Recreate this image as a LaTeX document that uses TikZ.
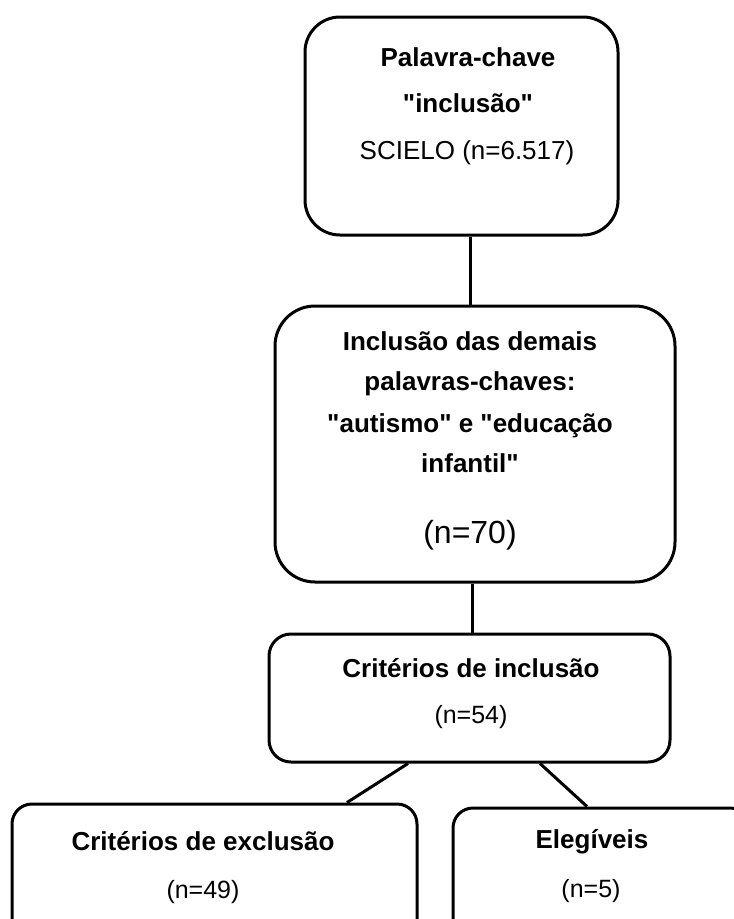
\documentclass[tikz,border=0pt]{standalone}
\usepackage{fontspec}
\setmainfont{Liberation Sans}[Ligatures=TeXOff]
\begin{document}
\begin{tikzpicture}[x=1pt,y=-1pt,
  box/.style={draw, line width=3pt, inner sep=0pt},
  conn/.style={line width=3pt},
  lblb/.style={anchor=base, inner sep=0pt, font=\fontsize{26}{30}\selectfont\bfseries},
  lblr/.style={anchor=base, inner sep=0pt, font=\fontsize{25}{30}\selectfont},
  lblbig/.style={anchor=base, inner sep=0pt, font=\fontsize{32}{36}\selectfont}]
\useasboundingbox (0,0) rectangle (734,919);
\clip (0,0) rectangle (734,919);
% boxes
\node[box, rounded corners=35pt, minimum width=313pt, minimum height=218pt] (top) at (461.5,126) {};
\node[box, rounded corners=40pt, minimum width=400pt, minimum height=276pt] (mid) at (475,444) {};
\node[box, rounded corners=22pt, minimum width=401pt, minimum height=128pt] (crit) at (469.5,698) {};
\node[box, rounded corners=20pt, minimum width=405pt, minimum height=146pt] (left) at (214.5,877) {};
\node[box, rounded corners=20pt, minimum width=297pt, minimum height=142pt] (right) at (601.5,879) {};
% texts
\node[lblb] (t1a) at (468,66) {Palavra-chave};
\node[lblb] (t1b) at (468,112) {"inclusão"};
\node[lblr, font=\fontsize{26}{30}\selectfont] (t1c) at (467,159) {SCIELO (n=6.517)};
\node[lblb] (t2a) at (470,350) {Inclusão das demais};
\node[lblb] (t2b) at (470,390) {palavras-chaves:};
\node[lblb] (t2c) at (470,432) {"autismo" e "educação};
\node[lblb] (t2d) at (470,472) {infantil"};
\node[lblbig] (t2e) at (470,543) {(n=70)};
\node[lblb] (t3a) at (471,677) {Critérios de inclusão};
\node[lblr] (t3b) at (471,723) {(n=54)};
\node[lblb] (t4a) at (203,850) {Critérios de exclusão};
\node[lblr] (t4b) at (203,898) {(n=49)};
\node[lblb] (t5a) at (592,848) {Elegíveis};
\node[lblr] (t5b) at (591,897) {(n=5)};
% connectors
\coordinate (c1) at (470,0);
\coordinate (c2) at (472,0);
\coordinate (d1) at (408,0);
\coordinate (d2) at (347,0);
\coordinate (d3) at (540,0);
\coordinate (d4) at (587,0);
\draw[conn] (c1 |- top.south) -- (c1 |- mid.north);
\draw[conn] (c2 |- mid.south) -- (c2 |- crit.north);
\draw[conn] (d1 |- crit.south) -- (d2 |- left.north);
\draw[conn] (d3 |- crit.south) -- (d4 |- right.north);
\end{tikzpicture}
\end{document}
